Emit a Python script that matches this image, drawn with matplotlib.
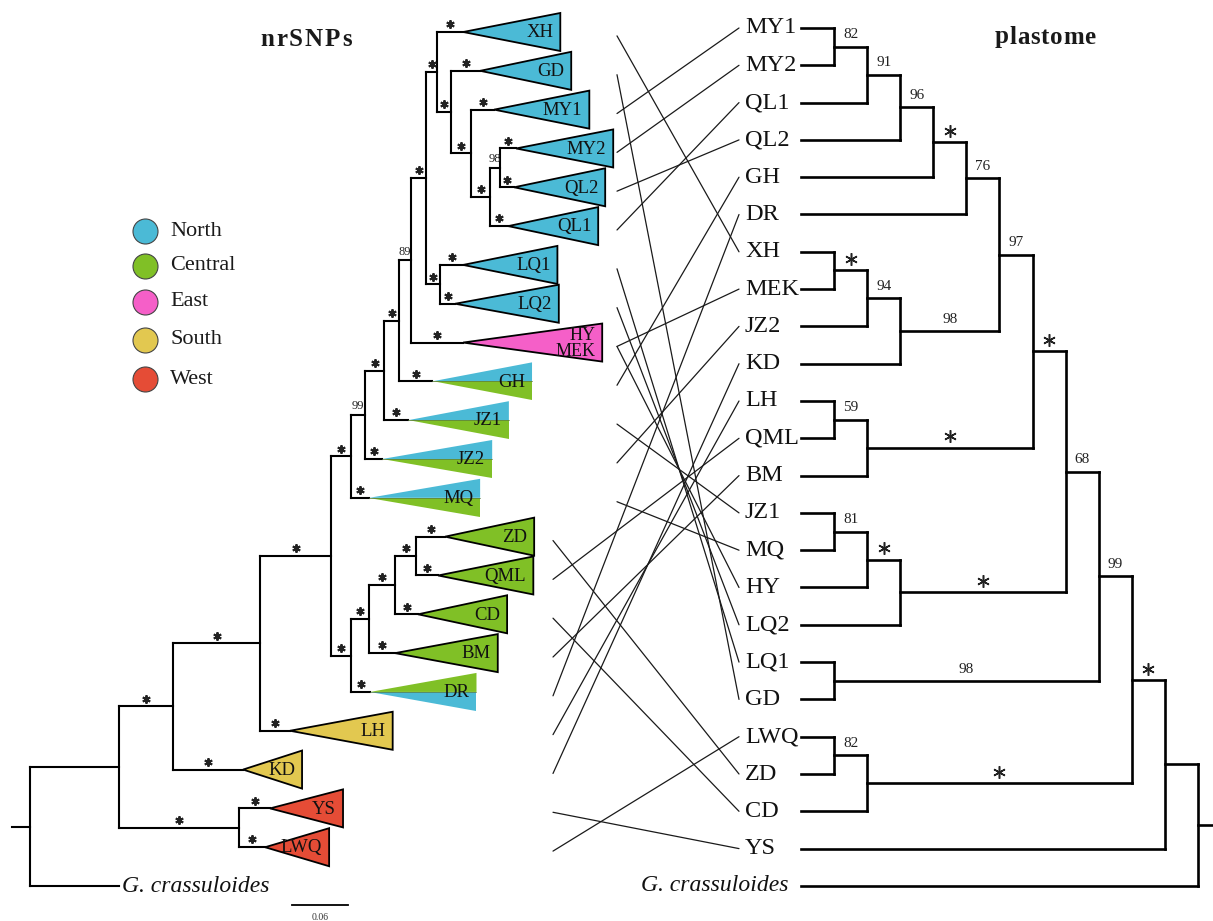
import matplotlib
matplotlib.use("Agg")
import matplotlib.pyplot as plt
from matplotlib.patches import Polygon, ConnectionPatch
from matplotlib.lines import Line2D

plt.rcParams["font.family"] = ["Liberation Serif", "DejaVu Serif"]

# ---------------- regions ----------------
region_names = ["North", "Central", "East", "South", "West"]
region_colors = ["#4BBAD6", "#80C026", "#F55FC8", "#E2C850", "#E54C36"]

# ---------------- nrSNP tree (phylogram, populations collapsed) ----------------
# collapsed clades, top to bottom
nr_clades = ["XH", "GD", "MY1", "MY2", "QL2", "QL1", "LQ1", "LQ2", "HY/MEK", "GH",
             "JZ1", "JZ2", "MQ", "ZD", "QML", "CD", "BM", "DR", "LH", "KD", "YS", "LWQ"]
nr_clade_depth = [0.104, 0.0975, 0.102, 0.104, 0.0975, 0.0964, 0.101, 0.111, 0.149, 0.107,
                  0.108, 0.118, 0.119, 0.0954, 0.102, 0.0954, 0.110, 0.114, 0.110, 0.0632,
                  0.0782, 0.0686]
# "A|B" = upper half region A, lower half region B
nr_clade_regions = ["North", "North", "North", "North", "North", "North", "North", "North",
                    "East", "North|Central", "North|Central", "North|Central", "North|Central",
                    "Central", "Central", "Central", "Central", "Central|North",
                    "South", "South", "West", "West"]
nr_outgroup = "G. crassuloides"

# edges: child -> parent, branch length (subst./site), support of child
nr_child = ["n1", "n2", "n3", "n4", "n5", "n6", "n7", "n8", "n9", "n10", "n11", "XH", "n12",
            "GD", "n13", "MY1", "n14", "n15", "MY2", "QL2", "QL1", "n16", "LQ1", "LQ2",
            "HY/MEK", "GH", "JZ1", "JZ2", "MQ", "n17", "n18", "n19", "n20", "ZD", "QML",
            "CD", "BM", "DR", "LH", "KD", "n21", "YS", "LWQ", "G. crassuloides"]
nr_parent = ["root", "n1", "n2", "n3", "n4", "n5", "n6", "n7", "n8", "n9", "n10", "n11", "n11",
             "n12", "n12", "n13", "n13", "n14", "n15", "n15", "n14", "n10", "n16", "n16",
             "n9", "n8", "n7", "n6", "n5", "n4", "n17", "n18", "n19", "n20", "n20",
             "n19", "n18", "n17", "n3", "n2", "n1", "n21", "n21", "root"]
nr_length = [0.0954, 0.0579, 0.0932, 0.0761, 0.0214, 0.0150, 0.0204, 0.0161, 0.0129, 0.0161,
             0.0118, 0.0279, 0.0150, 0.0311, 0.0214, 0.0246, 0.0204, 0.0107, 0.0171, 0.0150,
             0.0193, 0.0150, 0.0246, 0.0161, 0.0557, 0.0354, 0.0257, 0.0182, 0.0193, 0.0214,
             0.0193, 0.0279, 0.0225, 0.0311, 0.0236, 0.0246, 0.0279, 0.0204, 0.0321, 0.0750,
             0.1286, 0.0332, 0.0279, 0.0954]
nr_support = ["", "*", "*", "*", "*", "99", "*", "*", "89", "*", "*", "*", "*",
              "*", "*", "*", "*", "98", "*", "*", "*", "*", "*", "*",
              "*", "*", "*", "*", "*", "*", "*", "*", "*", "*", "*",
              "*", "*", "*", "*", "*", "*", "*", "*", ""]
scale_bar_value = 0.06

# ---------------- plastome tree (cladogram) ----------------
cp_tips = ["MY1", "MY2", "QL1", "QL2", "GH", "DR", "XH", "MEK", "JZ2", "KD", "LH", "QML",
           "BM", "JZ1", "MQ", "HY", "LQ2", "LQ1", "GD", "LWQ", "ZD", "CD", "YS",
           "G. crassuloides"]
cp_child = ["MY1", "MY2", "p1", "QL1", "p2", "QL2", "p3", "GH", "p4", "DR", "p5",
            "XH", "MEK", "p6", "JZ2", "p7", "KD", "p8", "p9",
            "LH", "QML", "p10", "BM", "p11", "p12",
            "JZ1", "MQ", "p13", "HY", "p14", "LQ2", "p15", "p16",
            "LQ1", "GD", "p17", "p18",
            "LWQ", "ZD", "p19", "CD", "p20", "p21", "YS", "p22", "G. crassuloides"]
cp_parent = ["p1", "p1", "p2", "p2", "p3", "p3", "p4", "p4", "p5", "p5", "p9",
             "p6", "p6", "p7", "p7", "p8", "p8", "p9", "p12",
             "p10", "p10", "p11", "p11", "p12", "p16",
             "p13", "p13", "p14", "p14", "p15", "p15", "p16", "p18",
             "p17", "p17", "p18", "p21",
             "p19", "p19", "p20", "p20", "p21", "p22", "p22", "root", "root"]
cp_support = ["", "", "82", "", "91", "", "96", "", "*", "", "76",
              "", "", "*", "", "94", "", "98", "97",
              "", "", "59", "", "*", "*",
              "", "", "81", "", "*", "", "*", "68",
              "", "", "98", "99",
              "", "", "82", "", "*", "*", "", "", ""]

# tanglegram links: nrSNP clade -> plastome tip
link_from = ["XH", "GD", "MY1", "MY2", "QL2", "QL1", "LQ1", "LQ2", "HY/MEK", "HY/MEK", "GH",
             "JZ1", "JZ2", "MQ", "ZD", "QML", "CD", "BM", "DR", "LH", "KD", "YS", "LWQ"]
link_to = ["XH", "GD", "MY1", "MY2", "QL2", "QL1", "LQ1", "LQ2", "HY", "MEK", "GH",
           "JZ1", "JZ2", "MQ", "ZD", "QML", "CD", "BM", "DR", "LH", "KD", "YS", "LWQ"]

# ---------------- layout (pixels of a 1213 x 921 canvas) ----------------
W, H = 1213, 921
L_ROOT_PX, L_PX_PER_UNIT, L_TOP_PX, L_ROW_PX = 30, 933.3, 32, 38.82
R_TIP_PX, R_LEVEL_PX, R_TOP_PX, R_ROW_PX = 801, 33.08, 28, 37.3

fig = plt.figure(figsize=(W / 100, H / 100), dpi=100)
fig.patch.set_facecolor("white")

axL = fig.add_axes([0, 0, 1, 1])
axL.set_xlim(-L_ROOT_PX / L_PX_PER_UNIT, (W - L_ROOT_PX) / L_PX_PER_UNIT)
axL.set_ylim((H - L_TOP_PX) / L_ROW_PX, -L_TOP_PX / L_ROW_PX)
axL.axis("off")

axR = fig.add_axes([0, 0, 1, 1])
axR.set_xlim(-R_TIP_PX / R_LEVEL_PX, (W - R_TIP_PX) / R_LEVEL_PX)
axR.set_ylim((H - R_TOP_PX) / R_ROW_PX, -R_TOP_PX / R_ROW_PX)
axR.axis("off")

color_of = dict(zip(region_names, region_colors))


def children_map(child, parent):
    kids = {}
    for c, p in zip(child, parent):
        kids.setdefault(p, []).append(c)
    return kids


# ----- nrSNP tree geometry -----
nr_order = nr_clades + [nr_outgroup]
nr_kids = children_map(nr_child, nr_parent)
nr_par = dict(zip(nr_child, nr_parent))
nr_len = dict(zip(nr_child, nr_length))
nr_sup = dict(zip(nr_child, nr_support))

nx = {"root": 0.0}


def nr_x(node):
    if node not in nx:
        nx[node] = nr_x(nr_par[node]) + nr_len[node]
    return nx[node]


ny = {}


def nr_y(node):
    if node not in ny:
        if node in nr_order:
            ny[node] = nr_order.index(node)
        else:
            ys = [nr_y(k) for k in nr_kids[node]]
            ny[node] = (min(ys) + max(ys)) / 2
    return ny[node]


for n in nr_child:
    nr_x(n)
nr_y("root")

LW_L = 1.5
for node, kids in nr_kids.items():
    ys = [ny[k] for k in kids]
    axL.plot([nx[node], nx[node]], [min(ys), max(ys)], color="black", lw=LW_L,
             solid_capstyle="projecting")
for c in nr_child:
    p = nr_par[c]
    axL.plot([nx[p], nx[c]], [ny[c], ny[c]], color="black", lw=LW_L,
             solid_capstyle="projecting")
    s = nr_sup[c]
    xm = (nx[p] + nx[c]) / 2
    if s == "*":
        axL.plot(xm, ny[c] - 0.2, marker=(6, 2, 0), ms=6, mew=1.4, color="#222222")
    elif s:
        axL.text(xm, ny[c] - 0.07, s, ha="center", va="bottom", fontsize=9, color="#222222")
# root stub
axL.plot([-18 / L_PX_PER_UNIT, 0], [ny["root"], ny["root"]], color="black", lw=LW_L)

# collapsed clade triangles
half = 0.49
for name, depth, reg in zip(nr_clades, nr_clade_depth, nr_clade_regions):
    x0, y0 = nx[name], ny[name]
    x1 = x0 + depth
    if "|" in reg:
        top, bot = reg.split("|")
        axL.add_patch(Polygon([(x0, y0), (x1, y0 - half), (x1, y0)], closed=True,
                              facecolor=color_of[top], edgecolor="none"))
        axL.add_patch(Polygon([(x0, y0), (x1, y0), (x1, y0 + half)], closed=True,
                              facecolor=color_of[bot], edgecolor="none"))
        axL.plot([x0, x1], [y0, y0], color="#5a7a40", lw=0.5)
    else:
        axL.add_patch(Polygon([(x0, y0), (x1, y0 - half), (x1, y0 + half)], closed=True,
                              facecolor=color_of[reg], edgecolor="black", lw=1.3))
    label = name.replace("/", "\n")
    fs = 13 if "\n" in label else 13.5
    axL.text(x1 - 7 / L_PX_PER_UNIT, y0 + 0.02, label, ha="right", va="center",
             fontsize=fs, linespacing=0.95, color="#111111")

# outgroup label
axL.text(nx[nr_outgroup] + 3 / L_PX_PER_UNIT, ny[nr_outgroup], nr_outgroup,
         ha="left", va="center", fontsize=17, style="italic", color="#111111")

# scale bar
sb_x0 = 262 / L_PX_PER_UNIT
sb_y = (905 - L_TOP_PX) / L_ROW_PX
axL.plot([sb_x0, sb_x0 + scale_bar_value], [sb_y, sb_y], color="black", lw=1.3)
axL.text(sb_x0 + scale_bar_value / 2, sb_y + 0.2, f"{scale_bar_value:.2f}",
         ha="center", va="top", fontsize=7, color="#333333")

# ----- plastome tree geometry -----
cp_kids = children_map(cp_child, cp_parent)
cp_par = dict(zip(cp_child, cp_parent))
cp_sup = dict(zip(cp_child, cp_support))

cx, cy = {}, {}


def cp_level(node):
    if node not in cx:
        if node in cp_tips:
            cx[node] = 0
            cy[node] = cp_tips.index(node)
        else:
            for k in cp_kids[node]:
                cp_level(k)
            cx[node] = max(cx[k] for k in cp_kids[node]) + 1
            ys = [cy[k] for k in cp_kids[node]]
            cy[node] = (min(ys) + max(ys)) / 2
    return cx[node]


cp_level("root")

LW_R = 1.9
for node, kids in cp_kids.items():
    ys = [cy[k] for k in kids]
    axR.plot([cx[node], cx[node]], [min(ys), max(ys)], color="black", lw=LW_R,
             solid_capstyle="projecting")
for c in cp_child:
    p = cp_par[c]
    axR.plot([cx[c], cx[p]], [cy[c], cy[c]], color="black", lw=LW_R,
             solid_capstyle="projecting")
    s = cp_sup[c]
    xm = (cx[c] + cx[p]) / 2
    if s == "*":
        axR.plot(xm, cy[c] - 0.3, marker=(6, 2, 0), ms=9, mew=1.1, color="#222222")
    elif s:
        axR.text(xm, cy[c] - 0.14, s, ha="center", va="bottom", fontsize=11, color="#222222")
axR.plot([cx["root"], cx["root"] + 0.5], [cy["root"], cy["root"]], color="black", lw=LW_R)

for t in cp_tips:
    if t == nr_outgroup:
        axR.text(-12 / R_LEVEL_PX, cy[t], t, ha="right", va="center", fontsize=17,
                 style="italic", color="#111111")
    else:
        axR.text(-56 / R_LEVEL_PX, cy[t], t, ha="left", va="center", fontsize=17.5,
                 color="#111111")

# ----- tanglegram links -----
upper_start = (617 - L_ROOT_PX) / L_PX_PER_UNIT
lower_start = (553 - L_ROOT_PX) / L_PX_PER_UNIT
link_end = -62 / R_LEVEL_PX
for a, b in zip(link_from, link_to):
    ya = ny[a] + 0.1
    xa = upper_start if ny[a] <= nr_order.index("MQ") else lower_start
    con = ConnectionPatch((xa, ya), (link_end, cy[b]), coordsA=axL.transData,
                          coordsB=axR.transData, color="#1a1a1a", lw=0.9)
    fig.add_artist(con)


# ----- titles (letter-spaced bold) -----
def tracked_title(xc_px, yc_px, s, fs, track_px):
    renderer = fig.canvas.get_renderer()
    widths = []
    for ch in s:
        t = fig.text(0, 0, ch, fontsize=fs, fontweight="bold")
        widths.append(t.get_window_extent(renderer).width)
        t.remove()
    total = sum(widths) + track_px * (len(s) - 1)
    x = xc_px - total / 2
    for ch, w in zip(s, widths):
        fig.text(x / W, 1 - yc_px / H, ch, ha="left", va="center", fontsize=fs,
                 fontweight="bold", color="#1a1a1a")
        x += w + track_px


tracked_title(306, 40, "nrSNPs", 18, 2.0)
tracked_title(1045, 37, "plastome", 18, 0.8)

# ----- region legend -----
legend_y = [231, 266, 302, 340, 379]
for name, col, yp in zip(region_names, region_colors, legend_y):
    fig.add_artist(Line2D([145 / W], [1 - yp / H], transform=fig.transFigure, marker="o",
                          ms=18, mfc=col, mec="#444444", mew=0.8, linestyle="none"))
    fig.text(170 / W, 1 - yp / H, name, ha="left", va="center", fontsize=16,
             color="#1a1a1a")

fig.savefig("out.png", dpi=100, facecolor="white")
